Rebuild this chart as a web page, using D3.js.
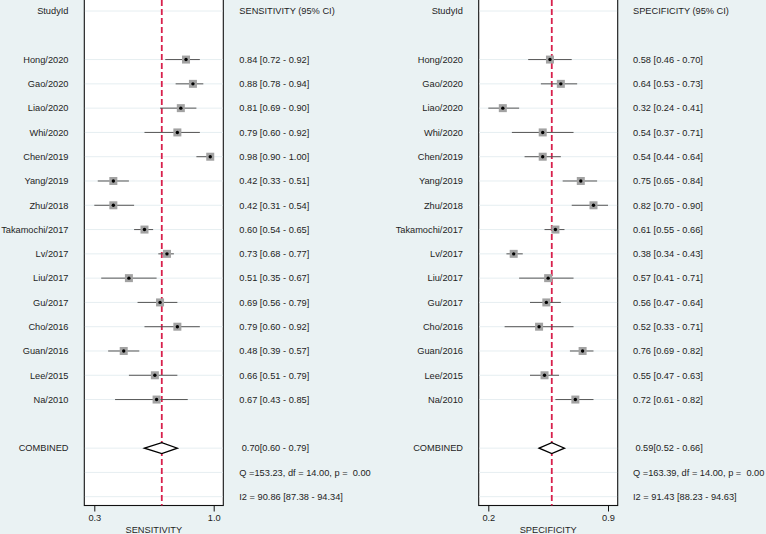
<!DOCTYPE html>
<html><head><meta charset="utf-8">
<script src="https://cdn.jsdelivr.net/npm/d3@7"></script>
<style>
html,body{margin:0;padding:0;background:#eaf2f3;}
svg{display:block;}
text{font-family:"Liberation Sans",Arial,sans-serif;font-size:9.25px;fill:#1e1e1e;white-space:pre;}
</style></head>
<body>
<script>
const studies = ["Hong/2020","Gao/2020","Liao/2020","Whi/2020","Chen/2019","Yang/2019","Zhu/2018","Takamochi/2017","Lv/2017","Liu/2017","Gu/2017","Cho/2016","Guan/2016","Lee/2015","Na/2010"];
const sensEst = [0.84,0.88,0.81,0.79,0.98,0.42,0.42,0.60,0.73,0.51,0.69,0.79,0.48,0.66,0.67];
const sensLo  = [0.72,0.78,0.69,0.60,0.90,0.33,0.31,0.54,0.68,0.35,0.56,0.60,0.39,0.51,0.43];
const sensHi  = [0.92,0.94,0.90,0.92,1.00,0.51,0.54,0.65,0.77,0.67,0.79,0.92,0.57,0.79,0.85];
const specEst = [0.58,0.64,0.32,0.54,0.54,0.75,0.82,0.61,0.38,0.57,0.56,0.52,0.76,0.55,0.72];
const specLo  = [0.46,0.53,0.24,0.37,0.44,0.65,0.70,0.55,0.34,0.41,0.47,0.33,0.69,0.47,0.61];
const specHi  = [0.70,0.73,0.41,0.71,0.64,0.84,0.90,0.66,0.43,0.71,0.64,0.71,0.82,0.63,0.82];
const sensCombined = [0.70,0.60,0.79];
const specCombined = [0.59,0.52,0.66];
const sensTicks = [0.31,1.00];
const specTicks = [0.24,0.90];
const sensStats = ["Q =153.23, df = 14.00, p =  0.00","I2 = 90.86 [87.38 - 94.34]"];
const specStats = ["Q =163.39, df = 14.00, p =  0.00","I2 = 91.43 [88.23 - 94.63]"];
const panels = [
  {title:"SENSITIVITY", est:sensEst, lo:sensLo, hi:sensHi, comb:sensCombined, ticks:sensTicks, stats:sensStats,
   px0:84.3, px1:223.3, r0:94.3, r1:213.7, labelX:68.5, valX:239.3},
  {title:"SPECIFICITY", est:specEst, lo:specLo, hi:specHi, comb:specCombined, ticks:specTicks, stats:specStats,
   px0:478.7, px1:617.7, r0:488.3, r1:608, labelX:463, valX:633}
];

const W=766,H=534;
const svg=d3.select("body").append("svg").attr("width",W).attr("height",H);
const rowY = d3.scaleLinear().domain([0,20]).range([11,496.7]);
const plotBottom=505.5;
const f2=d3.format(".2f");
const ciText=(e,l,h)=>`${f2(e)} [${f2(l)} - ${f2(h)}]`;

panels.forEach(p=>{
  const x=d3.scaleLinear().domain(p.ticks).range([p.r0,p.r1]);
  const g=svg.append("g");
  g.append("rect").attr("x",p.px0).attr("y",-2).attr("width",p.px1-p.px0).attr("height",plotBottom+2)
    .attr("fill","#fff").attr("stroke","#111").attr("stroke-width",1.1);
  const gridRows=[0].concat(d3.range(2,17),[18,19,20]);
  g.selectAll(".grid").data(gridRows).join("line")
    .attr("x1",p.px0+0.6).attr("x2",p.px1-0.6)
    .attr("y1",d=>rowY(d)).attr("y2",d=>rowY(d))
    .attr("stroke","#e6eef1").attr("stroke-width",1);
  g.append("line").attr("x1",x(p.comb[0])).attr("x2",x(p.comb[0]))
    .attr("y1",0).attr("y2",plotBottom)
    .attr("stroke","#d8204c").attr("stroke-width",1.8).attr("stroke-dasharray","6,3");
  g.append("text").attr("x",p.labelX).attr("y",rowY(0)).attr("dy","0.35em").attr("text-anchor","end").text("StudyId");
  g.append("text").attr("x",p.valX).attr("y",rowY(0)).attr("dy","0.35em").text(p.title+" (95% CI)");
  studies.forEach((s,i)=>{
    const y=rowY(i+2);
    g.append("text").attr("x",p.labelX).attr("y",y).attr("dy","0.35em").attr("text-anchor","end").text(s);
    g.append("line").attr("x1",x(p.lo[i])).attr("x2",x(p.hi[i])).attr("y1",y).attr("y2",y)
      .attr("stroke","#555").attr("stroke-width",1);
    g.append("rect").attr("x",x(p.est[i])-4).attr("y",y-4).attr("width",8).attr("height",8).attr("fill","#a2a2a2");
    g.append("circle").attr("cx",x(p.est[i])).attr("cy",y).attr("r",1.7).attr("fill","#000");
    g.append("text").attr("x",p.valX).attr("y",y).attr("dy","0.35em").text(ciText(p.est[i],p.lo[i],p.hi[i]));
  });
  const yc=rowY(18);
  g.append("text").attr("x",p.labelX).attr("y",yc).attr("dy","0.35em").attr("text-anchor","end").text("COMBINED");
  const c=p.comb;
  g.append("path").attr("d",`M${x(c[1])},${yc}L${x(c[0])},${yc-5.5}L${x(c[2])},${yc}L${x(c[0])},${yc+5.5}Z`)
    .attr("fill","#fff").attr("stroke","#000").attr("stroke-width",1.3);
  g.append("text").attr("x",p.valX+2.4).attr("y",yc).attr("dy","0.35em").text(`${f2(c[0])}[${f2(c[1])} - ${f2(c[2])}]`);
  p.stats.forEach((t,k)=>{
    g.append("text").attr("x",p.valX).attr("y",rowY(19+k)).attr("dy","0.35em").attr("xml:space","preserve").text(t);
  });
  const ax=d3.axisBottom(x).tickValues(p.ticks).tickFormat(d3.format(".1f")).tickSize(6).tickPadding(3);
  const ag=g.append("g").attr("transform",`translate(0,${plotBottom})`).call(ax);
  ag.select(".domain").remove();
  ag.selectAll(".tick line").attr("stroke","#111");
  ag.selectAll(".tick text").attr("fill","#1e1e1e").style("font-size","9.25px").style("font-family","Liberation Sans, Arial, sans-serif");
  g.append("text").attr("x",(p.px0+p.px1)/2).attr("y",532.5).attr("text-anchor","middle").text(p.title);
});
</script>
</body></html>
